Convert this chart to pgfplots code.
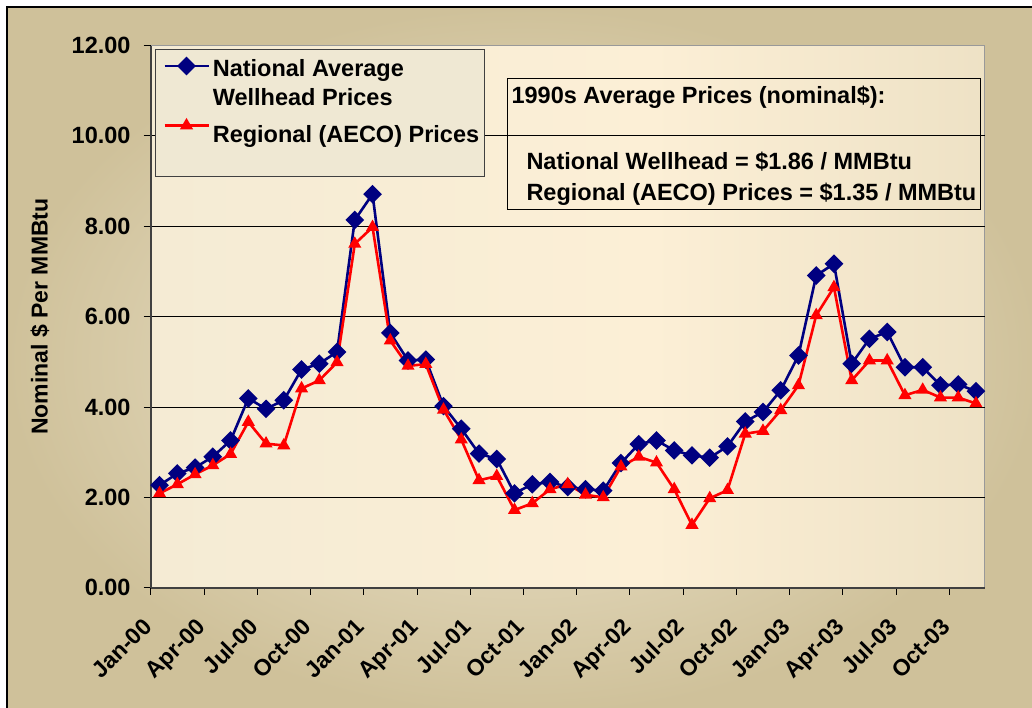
\documentclass[border=0pt]{standalone}
\usepackage{fontspec}
\setmainfont{Liberation Sans}
\usepackage{pgfplots}
\usepackage{pgfplotstable}
\pgfplotsset{compat=1.18}
\definecolor{navy}{HTML}{000080}
\definecolor{bgL}{HTML}{EEE8D3}
\definecolor{bgM}{HTML}{FCEFD6}
\definecolor{bgR}{HTML}{DCD1B0}
\definecolor{outIn}{HTML}{F2EAD5}
\definecolor{outOut}{HTML}{CFC19A}
\definecolor{legfill}{HTML}{EFE8D3}
\pgfdeclarehorizontalshading{plotbg}{100bp}{color(0bp)=(bgL); color(55bp)=(bgM); color(100bp)=(bgR)}

\pgfplotstableread{
i nat reg
0 2.27 2.09
1 2.53 2.29
2 2.66 2.51
3 2.90 2.71
4 3.26 2.96
5 4.19 3.67
6 3.96 3.19
7 4.15 3.15
8 4.83 4.41
9 4.96 4.59
10 5.22 4.99
11 8.14 7.61
12 8.71 7.98
13 5.64 5.47
14 5.03 4.91
15 5.05 4.95
16 4.02 3.94
17 3.52 3.28
18 2.97 2.38
19 2.85 2.47
20 2.09 1.72
21 2.29 1.87
22 2.34 2.18
23 2.23 2.29
24 2.18 2.06
25 2.15 2.00
26 2.76 2.68
27 3.18 2.90
28 3.26 2.77
29 3.04 2.18
30 2.93 1.39
31 2.88 1.98
32 3.13 2.16
33 3.68 3.41
34 3.89 3.47
35 4.37 3.93
36 5.14 4.48
37 6.91 6.03
38 7.17 6.65
39 4.96 4.59
40 5.51 5.03
41 5.66 5.03
42 4.88 4.26
43 4.88 4.38
44 4.48 4.21
45 4.50 4.21
46 4.35 4.08
}\prices

\begin{document}
\begin{tikzpicture}[x=1pt,y=1pt]
\path[use as bounding box] (0,0) rectangle (1032,-707);
\fill[white] (0,0) rectangle (1032,-707);
\begin{scope}
\clip (0,0) rectangle (1032,-707);
\shade[inner color=outIn, outer color=outOut] (7,-7) rectangle (1040,-715);
\draw[black, line width=1.2pt] (7,-720) -- (7,-7) -- (1040,-7);
\end{scope}

\begin{axis}[
  at={(150.7pt,-587.8pt)}, anchor=south west,
  scale only axis, width=834.1pt, height=542.3pt,
  xmin=0, xmax=47, ymin=0, ymax=12,
  clip=false,
  axis lines=left,
  axis line style={-, draw=black!75, line width=1.6pt},
  axis background/.style={shading=plotbg, draw=black!40, line width=1.2pt},
  xtick={0,3,...,45},
  xticklabels={Jan-00,Apr-00,Jul-00,Oct-00,Jan-01,Apr-01,Jul-01,Oct-01,Jan-02,Apr-02,Jul-02,Oct-02,Jan-03,Apr-03,Jul-03,Oct-03},
  ytick={0,2,...,10},
  extra y ticks={12}, extra y tick style={grid=none},
  /pgf/number format/fixed, /pgf/number format/fixed zerofill, /pgf/number format/precision=2,
  /pgf/number format/assume math mode=true,
  tick align=outside, major tick length=7pt,
  tick style={black, line width=0.8pt},
  ymajorgrids, grid style={black, line width=0.8pt},
  y tick label style={font=\fontsize{23.5}{27}\selectfont\bfseries, inner sep=0pt, xshift=-13pt},
  x tick label style={font=\fontsize{23}{27}\selectfont\bfseries, xshift=-9pt, yshift=-22pt, rotate=45, anchor=north east, inner sep=0pt},
  ylabel={Nominal \$ Per MMBtu},
  every axis y label/.style={at={(axis description cs:-0.1327,0.5)}, rotate=90, anchor=center, font=\fontsize{23}{27}\selectfont\bfseries},
  legend style={at={(rel axis cs:0.01475,0.9843)}, anchor=north west, draw=none, fill=none,
    font=\fontsize{23.5}{28}\selectfont\bfseries, row sep=0pt, inner sep=0pt,
    nodes={inner sep=0pt}, /tikz/every odd column/.append style={column sep=3pt}},
  legend cell align=left,
  legend image code/.code={\draw[mark repeat=2,mark phase=2] plot coordinates {(0pt,0pt) (22pt,0pt) (44pt,0pt)};},
]
\draw[fill=legfill, draw=black!75, line width=0.8pt] (rel axis cs:0.006,0.9936) rectangle (rel axis cs:0.3995,0.759);
\addplot[navy, line width=2.6pt, mark=square*, mark size=5.3pt, mark options={rotate=45, solid, fill=navy}]
  table[x expr=\thisrow{i}+0.5, y=nat] {\prices};
\addlegendentry{\rule{0pt}{22pt}National Average}
\addlegendimage{empty legend}
\addlegendentry{\rule{0pt}{28pt}Wellhead Prices}
\addplot[red, line width=2.6pt, mark=triangle*, mark size=5pt, mark options={solid, fill=red}]
  table[x expr=\thisrow{i}+0.5, y=reg] {\prices};
\addlegendentry{\rule{0pt}{35pt}Regional (AECO) Prices}
\end{axis}

\draw[black, line width=0.8pt] (507.3,-78.8) rectangle (980,-209.8);
\begin{scope}[every node/.style={anchor=base west, inner sep=0pt, font=\fontsize{23.5}{27}\selectfont\bfseries}]
\node at (511.4,-103.5) {1990s Average Prices (nominal\$):};
\node at (526.3,-169) {National Wellhead = \$1.86 / MMBtu};
\node at (526.3,-200.5) {Regional (AECO) Prices = \$1.35 / MMBtu};
\end{scope}
\end{tikzpicture}
\end{document}
